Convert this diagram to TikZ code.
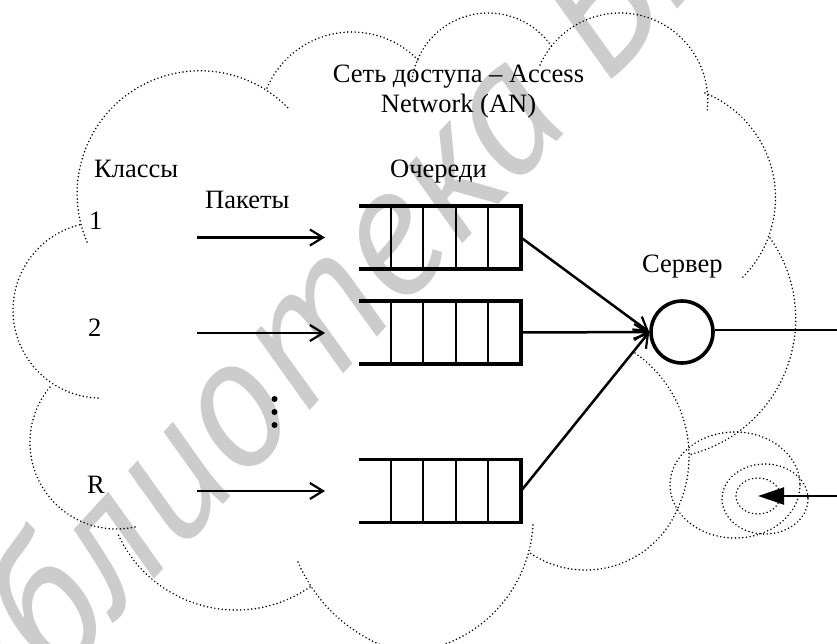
\documentclass[tikz,border=0pt]{standalone}
\usepackage{fontspec}
\setmainfont{Liberation Serif}
\newfontfamily\wmfont{PT Sans}
\usetikzlibrary{arrows.meta}
\tikzset{
  cloud/.style={line width=1.7pt,line cap=round,dash pattern=on 0pt off 3.7pt},
  lbl/.style={anchor=base west,inner sep=0pt,font=\fontsize{26.5}{30}\selectfont},
  flow/.style={line width=2.5pt,-{Straight Barb[length=13pt,width=16pt,line width=2.2pt]}},
  qline/.style={line width=3.6pt,line cap=butt},
  qdiv/.style={line width=2pt},
  qbox/.style={minimum width=162pt,minimum height=63pt,inner sep=0pt,outer sep=0pt},
  wm/.style={text=black!20,inner sep=0pt,font=\wmfont\itshape\fontsize{185}{185}\selectfont}
}
\newcommand{\queuedraw}[1]{%
  \draw[qdiv] (#1.north west)++(32,0) -- ++(0,63);
  \draw[qdiv] (#1.north west)++(64,0) -- ++(0,63);
  \draw[qdiv] (#1.north west)++(97,0) -- ++(0,63);
  \draw[qdiv] (#1.north west)++(129,0) -- ++(0,63);
  \draw[qline] (#1.north west) -- (#1.north east) -- (#1.south east) -- (#1.south west);
}
% circular arc through three points (working in hundreds of pixels)
\newcommand{\cloudarc}[6]{%
  \pgfmathsetmacro{\ax}{#1/100}\pgfmathsetmacro{\ay}{#2/100}%
  \pgfmathsetmacro{\bx}{#3/100}\pgfmathsetmacro{\by}{#4/100}%
  \pgfmathsetmacro{\cx}{#5/100}\pgfmathsetmacro{\cy}{#6/100}%
  \pgfmathsetmacro{\dd}{2*(\ax*(\by-\cy)+\bx*(\cy-\ay)+\cx*(\ay-\by))}%
  \pgfmathsetmacro{\aa}{\ax*\ax+\ay*\ay}\pgfmathsetmacro{\bb}{\bx*\bx+\by*\by}\pgfmathsetmacro{\cc}{\cx*\cx+\cy*\cy}%
  \pgfmathsetmacro{\ux}{(\aa*(\by-\cy)+\bb*(\cy-\ay)+\cc*(\ay-\by))/\dd}%
  \pgfmathsetmacro{\uy}{(\aa*(\cx-\bx)+\bb*(\ax-\cx)+\cc*(\bx-\ax))/\dd}%
  \pgfmathsetmacro{\rr}{100*veclen(\ax-\ux,\ay-\uy)}%
  \pgfmathsetmacro{\ta}{atan2(\ay-\uy,\ax-\ux)}%
  \pgfmathsetmacro{\tb}{Mod(atan2(\by-\uy,\bx-\ux)-\ta,360)}%
  \pgfmathsetmacro{\tc}{Mod(atan2(\cy-\uy,\cx-\ux)-\ta,360)}%
  \pgfmathsetmacro{\sweep}{\tb<\tc ? \tc : \tc-360}%
  \pgfmathsetmacro{\te}{\ta+\sweep}%
  \draw[cloud] plot[domain=\ta:\te,samples=80,smooth] ({100*\ux+\rr*cos(\x)},{100*\uy+\rr*sin(\x)});
}
\begin{document}
\begin{tikzpicture}[x=1pt,y=-1pt]
\useasboundingbox (0,0) rectangle (837,643);
\clip (0,0) rectangle (837,643);
\fill[white] (0,0) rectangle (837,643);
\node[wm,anchor=base west,rotate=47.5] (mark) at (-72,827) {Библиотека БГУИР};
% cloud
\cloudarc{87}{242}{117}{103}{290}{110}
\cloudarc{267}{88}{350}{32}{418}{60}
\cloudarc{412}{80}{488}{13}{552}{47}
\cloudarc{540}{65}{620}{13}{707}{112}
\cloudarc{705}{93}{775}{187}{742}{278}
\cloudarc{770}{238}{795}{333}{688}{455}
\cloudarc{635}{353}{688}{440}{677}{510}
\cloudarc{677}{510}{585}{570}{530}{553}
\cloudarc{533}{525}{510}{593}{425}{650}
\cloudarc{298}{562}{333}{613}{395}{650}
\cloudarc{310}{587}{235}{610}{117}{532}
\cloudarc{135}{527}{30}{440}{50}{387}
\cloudarc{98}{398}{13}{310}{83}{224}
\draw[cloud] (735,485) ellipse [x radius=65,y radius=53];
\draw[cloud] (765,499) ellipse [x radius=43,y radius=35];
\draw[cloud] (758,496) ellipse [x radius=22,y radius=18];
% labels
\node[lbl,anchor=base,align=center] (title) at (458.5,82) {Сеть доступа – Access};
\node[lbl,anchor=base] (title2) at (458.5,112) {Network (AN)};
\node[lbl] (classes) at (94,177) {Классы};
\node[lbl] (packets) at (205,208) {Пакеты};
\node[lbl] (queues) at (390,177) {Очереди};
\node[lbl] (server) at (642,272) {Сервер};
\node[lbl] (c1) at (89,229) {1};
\node[lbl] (c2) at (88,336) {2};
\node[lbl] (cR) at (87,493) {R};
% queues
\node[qbox] (q1) at (440,237.5) {};
\node[qbox] (q2) at (440,332.5) {};
\node[qbox] (q3) at (440,491) {};
\queuedraw{q1}\queuedraw{q2}\queuedraw{q3}
% server
\node[circle,draw,line width=3.6pt,minimum size=62pt,inner sep=0pt,outer sep=1.8pt] (srv) at (682,332) {};
% flows
\coordinate (s1) at (197,237.5);
\coordinate (s2) at (197,333);
\coordinate (s3) at (197,491);
\coordinate (e1) at (325,237.5);
\coordinate (e2) at (325,333);
\coordinate (e3) at (325,491);
\draw[flow] (s1) -- (e1);
\draw[flow] (s2) -- (e2);
\draw[flow] (s3) -- (e3);
\draw[flow] (q1.east) -- (srv.west);
\draw[flow] (q2.east) -- (srv.west);
\draw[flow] (q3.east) -- (srv.west);
\coordinate (outR) at (837,330);
\draw[line width=1.8pt] (srv.east |- outR) -- (outR);
\coordinate (inR) at (837,496);
\coordinate (inT) at (758,496);
\draw[line width=2pt,-{Triangle[length=26pt,width=17pt]}] (inR) -- (inT);
% ellipsis dots
\foreach \yy in {399,412,425} \fill (274.5,\yy) circle (3pt);
\end{tikzpicture}
\end{document}
